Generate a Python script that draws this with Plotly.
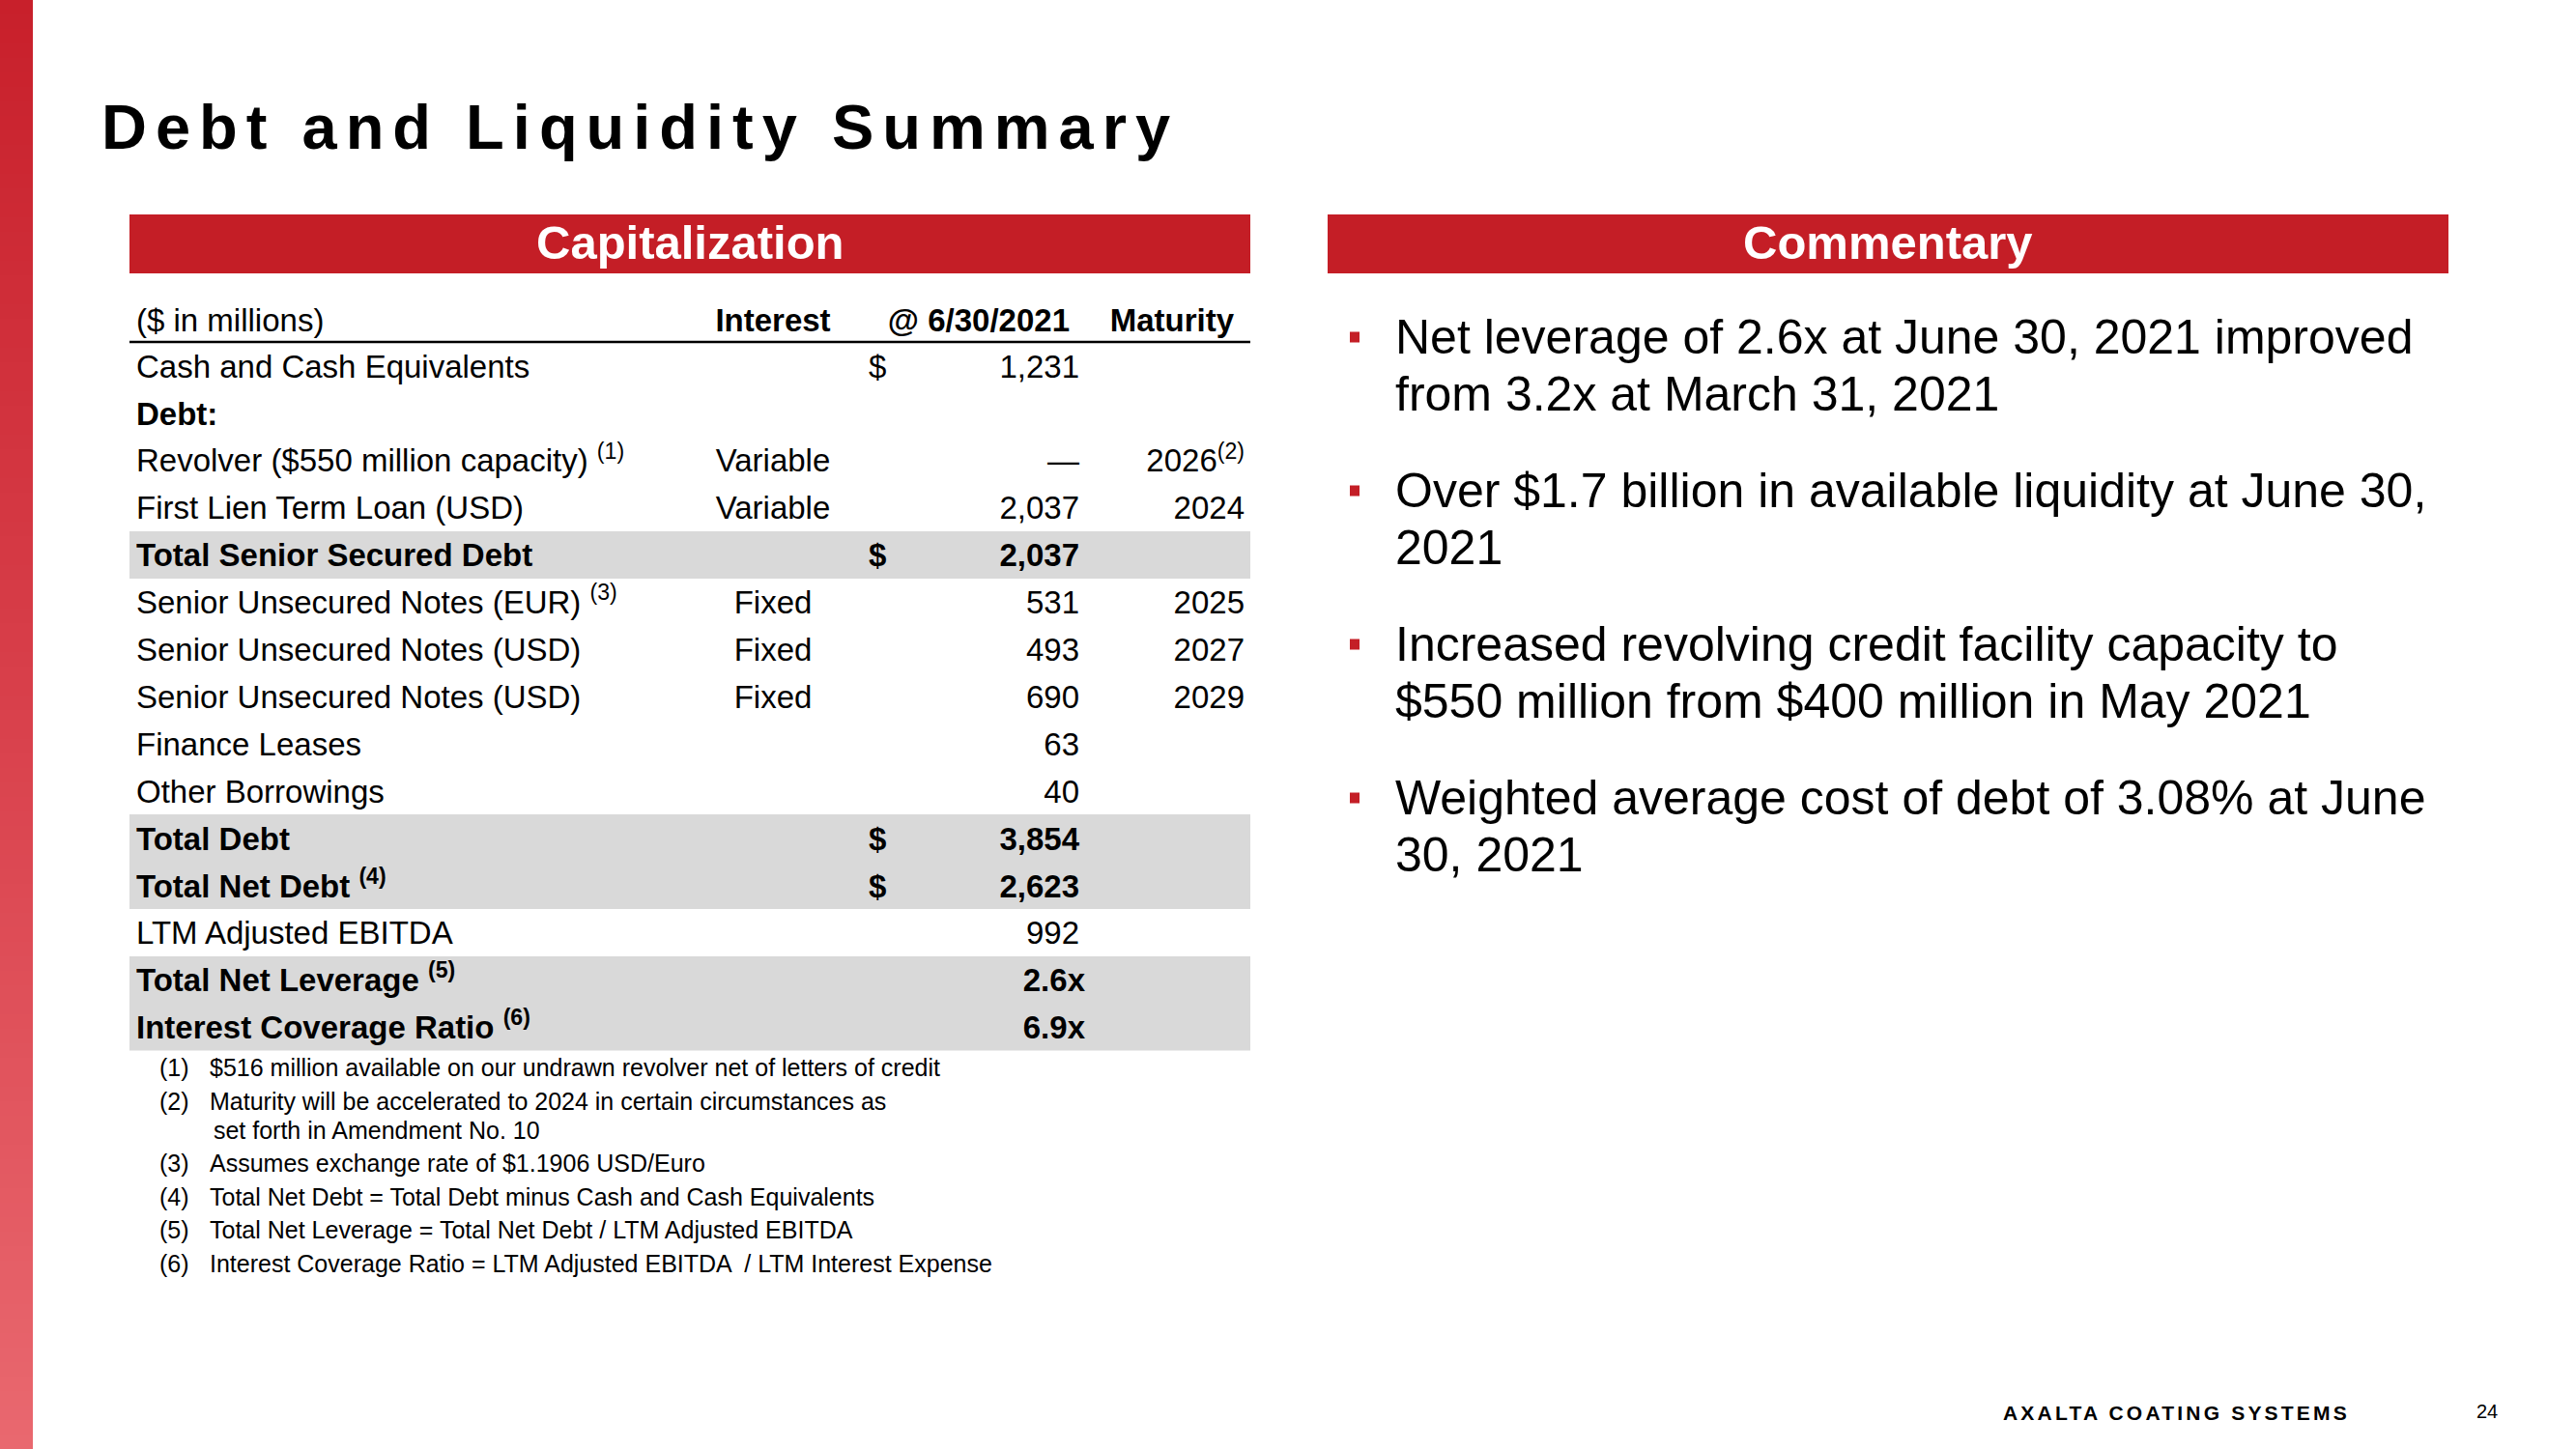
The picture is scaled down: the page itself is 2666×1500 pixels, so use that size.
import plotly.graph_objects as go

# ---------------- data ----------------
title_text = "Debt and Liquidity Summary"
left_header = "Capitalization"
right_header = "Commentary"

col_headers = ["($ in millions)", "Interest", "@ 6/30/2021", "Maturity"]

row_labels = [
    "Cash and Cash Equivalents",
    "Debt:",
    "Revolver ($550 million capacity) <sup>(1)</sup>",
    "First Lien Term Loan (USD)",
    "Total Senior Secured Debt",
    "Senior Unsecured Notes (EUR) <sup>(3)</sup>",
    "Senior Unsecured Notes (USD)",
    "Senior Unsecured Notes (USD)",
    "Finance Leases",
    "Other Borrowings",
    "Total Debt",
    "Total Net Debt <sup>(4)</sup>",
    "LTM Adjusted EBITDA",
    "Total Net Leverage <sup>(5)</sup>",
    "Interest Coverage Ratio <sup>(6)</sup>",
]
interest_type = ["", "", "Variable", "Variable", "", "Fixed", "Fixed", "Fixed",
                 "", "", "", "", "", "", ""]
amounts_musd = [1231, None, 0, 2037, 2037, 531, 493, 690, 63, 40, 3854, 2623, 992, None, None]
multiples_x = [None, None, None, None, None, None, None, None, None, None, None, None, None, 2.6, 6.9]
maturity_year = ["", "", "2026<sup>(2)</sup>", "2024", "", "2025", "2027", "2029",
                 "", "", "", "", "", "", ""]
dollar_rows = [0, 4, 10, 11]
bold_rows = [1, 4, 10, 11, 13, 14]
shaded_rows = [4, 10, 11, 13, 14]

footnotes = [
    ("(1)", ["$516 million available on our undrawn revolver net of letters of credit"]),
    ("(2)", ["Maturity will be accelerated to 2024 in certain circumstances as",
             " set forth in Amendment No. 10"]),
    ("(3)", ["Assumes exchange rate of $1.1906 USD/Euro"]),
    ("(4)", ["Total Net Debt = Total Debt minus Cash and Cash Equivalents"]),
    ("(5)", ["Total Net Leverage = Total Net Debt / LTM Adjusted EBITDA"]),
    ("(6)", ["Interest Coverage Ratio = LTM Adjusted EBITDA  / LTM Interest Expense"]),
]

commentary = [
    ["Net leverage of 2.6x at June 30, 2021 improved", "from 3.2x at March 31, 2021"],
    ["Over $1.7 billion in available liquidity at June 30,", "2021"],
    ["Increased revolving credit facility capacity to", "$550 million from $400 million in May 2021"],
    ["Weighted average cost of debt of 3.08% at June", "30, 2021"],
]

footer_text = "AXALTA COATING SYSTEMS"
page_number = "24"

# ---------------- styles / layout ----------------
W, H = 2666, 1500
FONT = "Liberation Sans, Arial, Helvetica, sans-serif"
RED = "#C41E26"
GRAY = "#D9D9D9"
BLACK = "#000000"

TBL_X0, TBL_X1 = 134, 1294
ROW_TOP = 354.0
ROW_H = 48.9
n_rows = len(row_labels)
tbl_top_px = ROW_TOP - ROW_H
tbl_bot_px = ROW_TOP + n_rows * ROW_H

COL_LABEL = 141
COL_INTEREST = 800
COL_DOLLAR = 899
COL_NUM = 1117
COL_MULT = 1123
COL_MAT = 1288
COL_HDR_DATE = 1107
COL_HDR_MAT = 1277
TBL_FS = 33
TEXT_DY = 0.08      # small downward nudge of cell text inside its row
HDR_DY = 0.10


def bold(s, i):
    return f"<b>{s}</b>" if i in bold_rows else s


def text_trace(xpos, idx, texts, position, dy=TEXT_DY):
    keep = [(i, t) for i, t in zip(idx, texts) if t]
    return go.Scatter(
        x=[xpos] * len(keep), y=[i + dy for i, _ in keep], text=[t for _, t in keep],
        mode="text", textposition=position,
        textfont=dict(family=FONT, size=TBL_FS, color=BLACK),
        hoverinfo="skip", showlegend=False, xaxis="x", yaxis="y2")


rows = list(range(n_rows))
fig = go.Figure()

# left gradient stripe (decorative)
n_slices = 100
fig.add_trace(go.Heatmap(
    x=[0, 34], y=[H * k / n_slices for k in range(n_slices + 1)],
    z=[[k / (n_slices - 1)] for k in range(n_slices)],
    colorscale=[[0, "#C8202B"], [0.5, "#D9414C"], [1, "#E9686F"]],
    showscale=False, hoverinfo="skip", xaxis="x", yaxis="y"))

# shaded bands of the table
fig.add_trace(go.Bar(
    y=shaded_rows, x=[TBL_X1 - TBL_X0] * len(shaded_rows), base=TBL_X0,
    orientation="h", width=1, marker=dict(color=GRAY, line=dict(width=0)),
    hoverinfo="skip", showlegend=False, xaxis="x", yaxis="y2"))

# header row
fig.add_trace(text_trace(COL_LABEL, [-1], [col_headers[0]], "middle right", HDR_DY))
fig.add_trace(text_trace(COL_INTEREST, [-1], [f"<b>{col_headers[1]}</b>"], "middle center", HDR_DY))
fig.add_trace(text_trace(COL_HDR_DATE, [-1], [f"<b>{col_headers[2]}</b>"], "middle left", HDR_DY))
fig.add_trace(text_trace(COL_HDR_MAT, [-1], [f"<b>{col_headers[3]}</b>"], "middle left", HDR_DY))

# body columns
fig.add_trace(text_trace(COL_LABEL, rows, [bold(s, i) for i, s in enumerate(row_labels)], "middle right"))
fig.add_trace(text_trace(COL_INTEREST, rows, interest_type, "middle center"))
fig.add_trace(text_trace(COL_DOLLAR, dollar_rows, [bold("$", i) for i in dollar_rows], "middle right"))
num_text = []
for i in rows:
    a = amounts_musd[i]
    num_text.append("" if a is None else ("\u2014" if a == 0 else bold(f"{a:,}", i)))
fig.add_trace(text_trace(COL_NUM, rows, num_text, "middle left"))
mult_text = ["" if m is None else bold(f"{m:.1f}x", i) for i, m in enumerate(multiples_x)]
fig.add_trace(text_trace(COL_MULT, rows, mult_text, "middle left"))
fig.add_trace(text_trace(COL_MAT, rows, maturity_year, "middle left"))

shapes = []
# header bars
shapes.append(dict(type="rect", xref="x", yref="y", x0=134, x1=1294, y0=222, y1=283,
                   fillcolor=RED, line=dict(width=0), layer="below"))
shapes.append(dict(type="rect", xref="x", yref="y", x0=1374, x1=2534, y0=222, y1=283,
                   fillcolor=RED, line=dict(width=0), layer="below"))
# table header underline
shapes.append(dict(type="line", xref="x", yref="y2", x0=TBL_X0, x1=TBL_X1, y0=-0.5, y1=-0.5,
                   line=dict(color=BLACK, width=2.5)))

annotations = []


def ann(x, y, text, size, xanchor="left", color=BLACK, yref="y"):
    annotations.append(dict(x=x, y=y, xref="x", yref=yref, text=text, showarrow=False,
                            xanchor=xanchor, yanchor="middle",
                            font=dict(family=FONT, size=size, color=color)))


# title
ann(103, 131, f'<b><span style="letter-spacing:9px">{title_text}</span></b>', 65)
# header bar texts
ann(714, 251, f"<b>{left_header}</b>", 49, xanchor="center", color="white")
ann(1954, 251, f"<b>{right_header}</b>", 49, xanchor="center", color="white")

# commentary bullets
C_FIRST, C_GAP, C_LINE = 349, 159, 59
for b, lines in enumerate(commentary):
    y0 = C_FIRST + b * C_GAP
    shapes.append(dict(type="rect", xref="x", yref="y", x0=1397, x1=1407,
                       y0=y0 - 5.5, y1=y0 + 5.5, fillcolor=RED, line=dict(width=0)))
    for k, line in enumerate(lines):
        ann(1442, y0 + k * C_LINE, line, 50)

# footnotes
fy = 1105
for num, lines in footnotes:
    ann(163, fy, num, 25)
    for k, line in enumerate(lines):
        ann(215 if k == 0 else 212, fy + k * 30, line, 25)
    fy += 34.6 + 30 * (len(lines) - 1)

# footer
ann(2071, 1462, f'<b><span style="letter-spacing:3.2px">{footer_text}</span></b>', 21)
ann(2561, 1461, page_number, 20)

fig.update_layout(
    width=W, height=H,
    margin=dict(l=0, r=0, t=0, b=0),
    paper_bgcolor="white", plot_bgcolor="rgba(0,0,0,0)",
    showlegend=False, barmode="overlay", bargap=0,
    xaxis=dict(range=[0, W], domain=[0, 1], visible=False, fixedrange=True),
    yaxis=dict(range=[H, 0], domain=[0, 1], visible=False, fixedrange=True),
    yaxis2=dict(range=[n_rows - 0.5, -1.5], domain=[1 - tbl_bot_px / H, 1 - tbl_top_px / H],
                anchor="x", visible=False, fixedrange=True),
    shapes=shapes,
    annotations=annotations,
)

fig.write_html("out.html",
               config={"displayModeBar": False, "staticPlot": True},
               post_script="document.body.style.margin='0';document.body.style.overflow='hidden';")
